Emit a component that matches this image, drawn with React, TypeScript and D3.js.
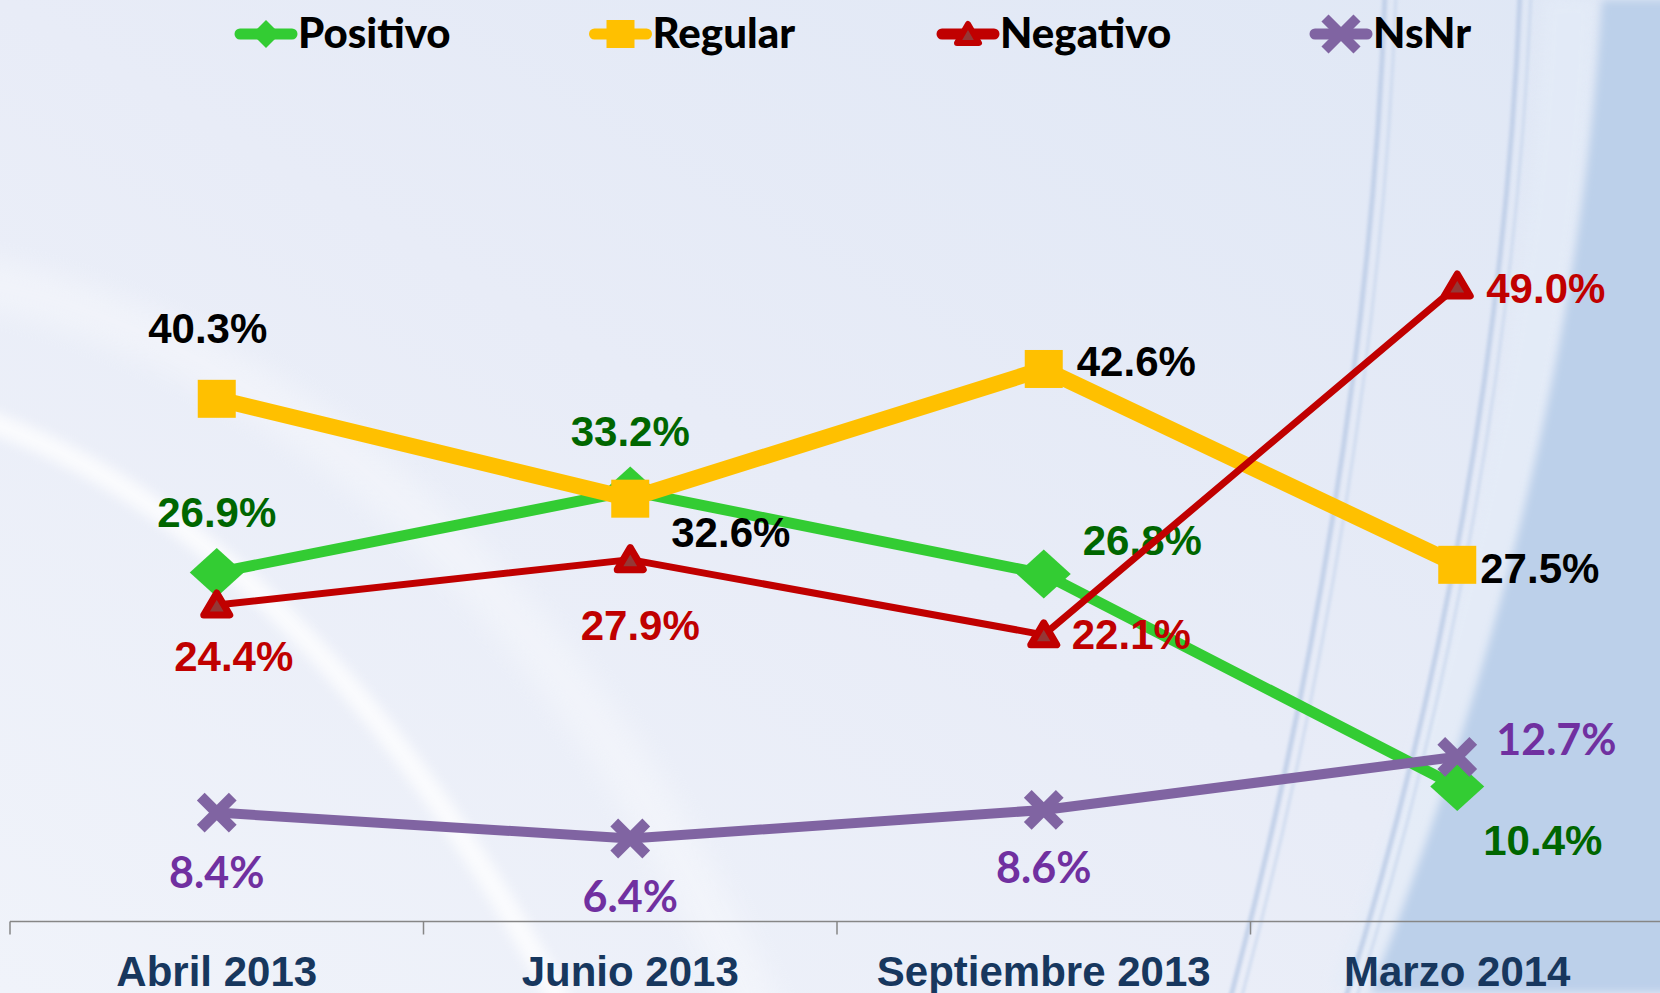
import React from "react";
import * as d3 from "d3";

const categories = ["Abril 2013", "Junio 2013", "Septiembre 2013", "Marzo 2014"];
const seriesNames = ["Positivo", "Regular", "Negativo", "NsNr"];
const positivo = [26.9, 33.2, 26.8, 10.4];
const regular = [40.3, 32.6, 42.6, 27.5];
const negativo = [24.4, 27.9, 22.1, 49.0];
const nsnr = [8.4, 6.4, 8.6, 12.7];
const seriesValues = [positivo, regular, negativo, nsnr];

// label placement (style/position, kept apart from the data)
type LP = { a: "middle" | "start"; dx: number; dy: number };
const labelPlacement: LP[][] = [
  [{ a: "middle", dx: 0, dy: -46 }, { a: "middle", dx: 0, dy: -45 }, { a: "start", dx: 39, dy: -19 }, { a: "start", dx: 26, dy: 68 }],
  [{ a: "middle", dx: -9, dy: -56 }, { a: "start", dx: 41, dy: 48 }, { a: "start", dx: 33, dy: 7 }, { a: "start", dx: 23, dy: 18 }],
  [{ a: "middle", dx: 17, dy: 66 }, { a: "middle", dx: 10, dy: 80 }, { a: "start", dx: 28, dy: 14 }, { a: "start", dx: 29, dy: 17 }],
  [{ a: "middle", dx: 0, dy: 75 }, { a: "middle", dx: 0, dy: 74 }, { a: "middle", dx: 0, dy: 73 }, { a: "start", dx: 39, dy: -2 }],
];

const styles = [
  { color: "#33CC33", width: 11, label: "#006600", font: "'Liberation Sans', Arial, sans-serif", size: 42, marker: "diamond" },
  { color: "#FFC000", width: 16, label: "#000000", font: "'Liberation Sans', Arial, sans-serif", size: 42, marker: "square" },
  { color: "#C00000", width: 7, label: "#C00000", font: "'Liberation Sans', Arial, sans-serif", size: 42, marker: "triangle" },
  { color: "#8064A2", width: 10, label: "#7030A0", font: "Lato, 'Open Sans', sans-serif", size: 43, marker: "x" },
];

const legendX = [266, 620.5, 968, 1341];

const W = 1660;
const H = 993;

function Marker({ kind, color }: { kind: string; color: string }) {
  if (kind === "diamond") {
    return <path d="M0,-24.5L27,0L0,24.5L-27,0Z" fill={color} />;
  }
  if (kind === "square") {
    return <rect x={-19} y={-19} width={38} height={38} fill={color} />;
  }
  if (kind === "triangle") {
    return (
      <path d="M0,-12L13,10L-13,10Z" fill="#953735" stroke={color} strokeWidth={7} strokeLinejoin="round" />
    );
  }
  const r = 16;
  return (
    <g stroke={color} strokeWidth={11} strokeLinecap="butt">
      <line x1={-r} y1={-r} x2={r} y2={r} />
      <line x1={-r} y1={r} x2={r} y2={-r} />
    </g>
  );
}

export default function App() {
  const x = d3.scaleBand<string>().domain(categories).range([10, 10 + 4 * 413.5]).padding(0);
  const y = d3.scaleLinear().domain([0, 60]).range([921.5, 921.5 - 60 * 12.97]);
  const cx = (c: string) => (x(c) as number) + x.bandwidth() / 2;
  const line = d3
    .line<number>()
    .x((_, i) => cx(categories[i]))
    .y((d) => y(d));
  const ticks = categories.map((c) => x(c) as number);
  const axisY = y(0);

  return (
    <svg
      width={W}
      height={H}
      viewBox={`0 0 ${W} ${H}`}
      style={{ position: "absolute", left: 0, top: 0, display: "block" }}
    >
      <defs>
        <linearGradient id="bg" x1="1" y1="0" x2="0" y2="1">
          <stop offset="0" stopColor="#DFE7F5" />
          <stop offset="0.5" stopColor="#E8ECF7" />
          <stop offset="1" stopColor="#F0F3FA" />
        </linearGradient>
        <filter id="blur6" x="-20%" y="-20%" width="140%" height="140%">
          <feGaussianBlur stdDeviation="6" />
        </filter>
        <filter id="blur12" x="-20%" y="-20%" width="140%" height="140%">
          <feGaussianBlur stdDeviation="12" />
        </filter>
        <filter id="blur2" x="-20%" y="-20%" width="140%" height="140%">
          <feGaussianBlur stdDeviation="1.5" />
        </filter>
        <filter id="blur4" x="-20%" y="-20%" width="140%" height="140%">
          <feGaussianBlur stdDeviation="4" />
        </filter>
      </defs>

      {/* background */}
      <rect x={0} y={0} width={W} height={H} fill="url(#bg)" />
      <path d="M-30,280 C250,330 560,560 760,1020" fill="none" stroke="#FFFFFF" strokeWidth={50} opacity={0.3} filter="url(#blur12)" />
      <path d="M-30,415 C170,480 380,660 570,1020" fill="none" stroke="#FFFFFF" strokeWidth={22} opacity={0.75} filter="url(#blur6)" />
      <path d="M1570,0 C1555,380 1460,740 1355,993" fill="none" stroke="#E4ECF8" strokeWidth={50} opacity={0.7} filter="url(#blur6)" />
      <path d="M1602,0 C1580,380 1470,740 1370,993 L1700,993 L1700,0 Z" fill="#BCD0EA" filter="url(#blur4)" />
      <path d="M1385,-5 C1372,350 1310,700 1230,1000" fill="none" stroke="#BDCDE7" strokeWidth={5} opacity={0.85} filter="url(#blur2)" />
      <path d="M1396,-5 C1383,350 1321,700 1241,1000" fill="none" stroke="#C6D5EC" strokeWidth={3} opacity={0.7} filter="url(#blur2)" />
      <path d="M1520,-5 C1505,350 1440,700 1345,1000" fill="none" stroke="#BDCDE7" strokeWidth={5} opacity={0.85} filter="url(#blur2)" />
      <path d="M1531,-5 C1516,350 1451,700 1356,1000" fill="none" stroke="#C6D5EC" strokeWidth={3} opacity={0.7} filter="url(#blur2)" />

      {/* axis */}
      <line x1={ticks[0]} x2={W} y1={axisY} y2={axisY} stroke="#868686" strokeWidth={1.5} />
      {ticks.map((t, i) => (
        <line key={i} x1={t} x2={t} y1={axisY} y2={axisY + 13} stroke="#868686" strokeWidth={1.5} />
      ))}
      {categories.map((c) => (
        <text
          key={c}
          x={cx(c)}
          y={986}
          textAnchor="middle"
          fontFamily="'Liberation Sans', Arial, sans-serif"
          fontWeight="bold"
          fontSize={42}
          fill="#17375E"
        >
          {c}
        </text>
      ))}

      {/* series */}
      {seriesValues.map((vals, si) => {
        const st = styles[si];
        return (
          <g key={si}>
            <path d={line(vals) as string} fill="none" stroke={st.color} strokeWidth={st.width} strokeLinejoin="round" />
            {vals.map((v, i) => (
              <g key={i} transform={`translate(${cx(categories[i])},${y(v)})`}>
                <Marker kind={st.marker} color={st.color} />
              </g>
            ))}
            {vals.map((v, i) => {
              const lp = labelPlacement[si][i];
              return (
                <text
                  key={"l" + i}
                  x={cx(categories[i]) + lp.dx}
                  y={y(v) + lp.dy}
                  textAnchor={lp.a}
                  fontFamily={st.font}
                  fontWeight="bold"
                  fontSize={st.size}
                  fill={st.label}
                >
                  {v.toFixed(1) + "%"}
                </text>
              );
            })}
          </g>
        );
      })}

      {/* legend */}
      {seriesNames.map((n, i) => {
        const st = styles[i];
        const lx = legendX[i];
        return (
          <g key={n} transform={`translate(${lx},34)`}>
            <line x1={-26} x2={26} y1={0} y2={0} stroke={st.color} strokeWidth={11} strokeLinecap="round" />
            {st.marker === "diamond" && <path d="M0,-14L14,0L0,14L-14,0Z" fill={st.color} />}
            {st.marker === "square" && <rect x={-14} y={-14} width={28} height={28} fill={st.color} />}
            {st.marker === "triangle" && (
              <path d="M0,-10L11,9L-11,9Z" fill="#953735" stroke={st.color} strokeWidth={6} strokeLinejoin="round" />
            )}
            {st.marker === "x" && (
              <g stroke={st.color} strokeWidth={10}>
                <line x1={-16} y1={-16} x2={16} y2={16} />
                <line x1={-16} y1={16} x2={16} y2={-16} />
              </g>
            )}
            <text
              x={32}
              y={14}
              fontFamily="Lato, 'Open Sans', sans-serif"
              fontWeight="900"
              fontSize={42}
              fill="#000000"
            >
              {n}
            </text>
          </g>
        );
      })}
    </svg>
  );
}
